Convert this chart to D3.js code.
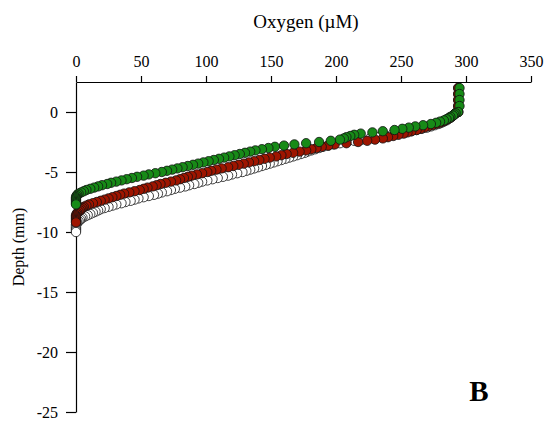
<!DOCTYPE html>
<html>
<head>
	<meta http-equiv="Content-Type" content="text/html;charset=utf-8">
	<title>Oxygen profile</title>
	<script type="text/javascript" src="https://d3js.org/d3.v7.min.js"></script>
	<style type="text/css">
		body {
			margin: 0;
			background: white;
		}
		svg text {
			font-family: "Liberation Serif", "Times New Roman", serif;
			fill: black;
		}
		.axis text {
			font-size: 16px;
		}
		.axis path, .axis line {
			stroke: black;
			stroke-width: 1.2;
		}
		.dot {
			stroke: #111;
			stroke-width: 0.8;
		}
	</style>
</head>
<body>
	<div id="chart"></div>
	<script type="text/javascript">
		// depths (mm) of the profile steps
		var depths = [2, 1.5, 1, 0.5, 0,
			-0.1, -0.2, -0.3, -0.4, -0.5, -0.6, -0.7, -0.8, -0.9, -1.0,
			-1.1, -1.2, -1.3, -1.4, -1.5, -1.6, -1.7, -1.8, -1.9, -2.0,
			-2.1, -2.2, -2.3, -2.4, -2.5, -2.6, -2.7, -2.8, -2.9, -3.0,
			-3.1, -3.2, -3.3, -3.4, -3.5, -3.6, -3.7, -3.8, -3.9, -4.0,
			-4.1, -4.2, -4.3, -4.4, -4.5, -4.6, -4.7, -4.8, -4.9, -5.0,
			-5.1, -5.2, -5.3, -5.4, -5.5, -5.6, -5.7, -5.8, -5.9, -6.0,
			-6.1, -6.2, -6.3, -6.4, -6.5, -6.6, -6.7, -6.8, -6.9, -7.0,
			-7.1, -7.2, -7.3, -7.4, -7.5, -7.6, -7.7, -7.8, -7.9, -8.0,
			-8.1, -8.2, -8.3, -8.4, -8.5, -8.6, -8.7, -8.8, -8.9, -9.0,
			-9.1, -9.2, -9.3, -9.4, -9.5, -9.6, -9.7, -9.8, -9.9, -10.0];

		// oxygen (uM), one value per depth, from the top
		var oxyWhite = [294, 294, 294, 294, 294,
			292, 291, 290, 289, 288, 286, 285, 283, 281, 279,
			276, 273, 270, 266, 262, 258, 253, 248, 243, 238,
			232, 226, 220, 214, 208, 203, 198, 194, 190, 187,
			184, 181, 178, 176, 173, 170, 167, 164, 161, 158,
			155, 152, 149, 146, 143, 140, 137, 134, 131, 128,
			124, 120, 117, 113, 109, 105, 101, 97, 94, 91,
			87, 84, 80, 76, 73, 70, 66, 63, 60, 56,
			52, 48, 45, 42, 38, 35, 31, 28, 25, 22,
			19, 17, 15, 13, 11, 9, 7, 5, 4, 3,
			2, 1, 0.5, 0, 0, 0, 0, 0, 0, 0];

		var oxyRed = [294, 294, 294, 294, 294,
			292, 291, 290, 289, 287, 286, 284, 282, 280, 277,
			274, 271, 268, 265, 262, 258, 255, 252, 248, 244,
			240, 236, 230, 224, 217, 208, 199, 194, 189, 185,
			181, 177, 172, 167, 162, 158, 154, 149, 145, 141,
			137, 133, 129, 125, 121, 117, 112, 108, 104, 101,
			97, 93, 89, 86, 83, 80, 77, 73, 69, 65,
			62, 59, 55, 52, 49, 45, 41, 37, 34, 31,
			28, 25, 22, 19, 16, 13, 10, 8, 6, 5,
			4, 3, 2, 1, 0.5, 0, 0, 0, 0, 0,
			0, 0];

		var oxyGreen = [295, 295, 295, 295, 294,
			292, 291, 290, 288, 287, 285, 283, 280, 277, 273,
			267, 261, 256, 251, 245, 236, 228, 219, 214, 211,
			208, 206, 203, 196, 187, 177, 168, 160, 153, 148,
			143, 138, 134, 130, 126, 122, 118, 114, 110, 106,
			102, 98, 94, 90, 86, 82, 78, 74, 70, 66,
			61, 56, 52, 47, 43, 39, 35, 31, 27, 24,
			20, 17, 14, 11, 8, 6, 4, 2, 1, 0.3,
			0, 0, 0, 0, 0, 0, 0];

		var seriesNames = ["white", "red", "green"];
		var seriesColors = ["#ffffff", "#9e1500", "#178a17"];
		var seriesValues = [oxyWhite, oxyRed, oxyGreen];

		var xTicks = [0, 50, 100, 150, 200, 250, 300, 350];
		var yTicks = [0, -5, -10, -15, -20, -25];

		var W = 547, H = 421;

		var x = d3.scaleLinear().domain([0, 350]).range([76, 531]);
		var y = d3.scaleLinear().domain([2.5, -25]).range([82, 412]);

		var svg = d3.select("#chart").append("svg")
			.attr("width", W)
			.attr("height", H);

		svg.append("g")
			.attr("class", "axis")
			.attr("transform", "translate(0," + y(2.5) + ")")
			.call(d3.axisTop(x).tickValues(xTicks).tickSize(6).tickSizeOuter(0).tickPadding(9));

		// plain hyphen for negatives, like the original
		svg.append("g")
			.attr("class", "axis")
			.attr("transform", "translate(" + x(0) + ",0)")
			.call(d3.axisLeft(y).tickValues(yTicks).tickSize(10).tickSizeOuter(0).tickPadding(8)
				.tickFormat(function(d) { return String(d); }));

		// points, white first so green ends up on top
		seriesValues.forEach(function(vals, i) {
			var pts = vals.map(function(v, j) { return {o: v, d: depths[j]}; });
			svg.append("g")
				.attr("class", "series-" + seriesNames[i])
				.selectAll("circle")
				.data(pts)
				.enter().append("circle")
				.attr("class", "dot")
				.attr("cx", function(p) { return x(p.o); })
				.attr("cy", function(p) { return y(p.d); })
				.attr("r", 4.7)
				.attr("fill", seriesColors[i]);
		});

		svg.append("text")
			.attr("x", 306)
			.attr("y", 28)
			.attr("text-anchor", "middle")
			.style("font-size", "19px")
			.text("Oxygen (µM)");

		svg.append("text")
			.attr("transform", "translate(24," + ((y(2.5) + y(-25)) / 2) + ") rotate(-90)")
			.attr("text-anchor", "middle")
			.style("font-size", "16px")
			.text("Depth (mm)");

		svg.append("text")
			.attr("x", 479)
			.attr("y", 401)
			.attr("text-anchor", "middle")
			.style("font-size", "29px")
			.style("font-weight", "bold")
			.text("B");
	</script>
</body>
</html>
